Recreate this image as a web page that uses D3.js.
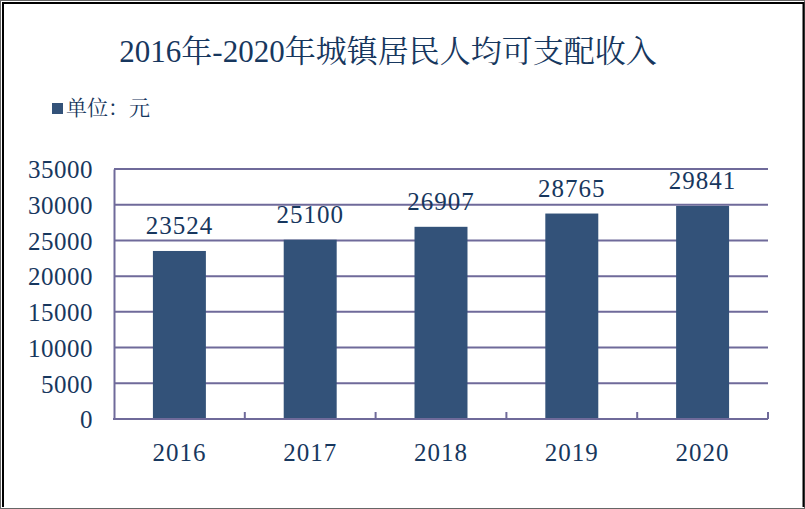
<!DOCTYPE html>
<html><head><meta charset="utf-8">
<script src="https://cdn.jsdelivr.net/npm/d3@7"></script>
<style>body{margin:0;background:#fff}svg{display:block}</style>
</head><body>
<script>
const categories = ["2016","2017","2018","2019","2020"];
const values = [23524,25100,26907,28765,29841];
const yTicks = [0,5000,10000,15000,20000,25000,30000,35000];
const title = "2016年-2020年城镇居民人均可支配收入";
const legendLabel = "单位：元";

const W=805,H=509;
const svg=d3.select("body").append("svg").attr("width",W).attr("height",H);
const font="'Liberation Serif','Times New Roman','Noto Serif CJK SC','Noto Sans CJK SC',serif";
const textColor="#17375E", barColor="#335279", gridColor="#6F6A9A";

// frame
svg.append("rect").attr("x",0.5).attr("y",0.5).attr("width",W-1).attr("height",H-1).attr("fill","none").attr("stroke","#666");
svg.append("path").attr("d",`M3,${H-2} V3 H803.5 V${H-2}`).attr("fill","none").attr("stroke","#000").attr("stroke-width",2);

const m={l:114,r:768,t:169,b:419};
const x=d3.scaleBand().domain(categories).range([m.l,m.r]).paddingInner(0.595).paddingOuter(0.2975);
const y=d3.scaleLinear().domain([0,35000]).range([m.b,m.t]);

svg.append("text").attr("x",388).attr("y",62).attr("text-anchor","middle")
  .attr("font-family",font).attr("font-size",31).attr("fill",textColor).text(title);

svg.append("rect").attr("x",52).attr("y",103).attr("width",11).attr("height",11).attr("fill",barColor);
svg.append("text").attr("x",66).attr("y",115).attr("font-family",font).attr("font-size",21).attr("fill",textColor).text(legendLabel);

// grid
svg.append("g").selectAll("line").data(yTicks.filter(d=>d>0)).join("line")
  .attr("x1",m.l).attr("x2",m.r).attr("y1",d=>y(d)).attr("y2",d=>y(d))
  .attr("stroke",gridColor).attr("stroke-width",2);

// bars
svg.append("g").selectAll("rect").data(values).join("rect")
  .attr("x",(d,i)=>x(categories[i])).attr("width",x.bandwidth())
  .attr("y",d=>y(d)).attr("height",d=>y(0)-y(d)).attr("fill",barColor);

// axes
const yAxis=d3.axisLeft(y).tickValues(yTicks).tickSize(0).tickPadding(21).tickFormat(d3.format("d"));
const gy=svg.append("g").attr("transform",`translate(${m.l},0)`).call(yAxis);
gy.select(".domain").attr("stroke",gridColor).attr("stroke-width",2);
gy.selectAll("text").attr("font-family",font).attr("font-size",25).attr("letter-spacing",0.5).attr("fill",textColor).attr("dy","0.35em");

const gx=svg.append("g").attr("transform",`translate(0,${m.b})`);
gx.append("line").attr("x1",m.l-1).attr("x2",m.r).attr("stroke",gridColor).attr("stroke-width",2);
const step=x.step();
const bounds=d3.range(1,categories.length+1).map(i=>m.l+i*step);
gx.selectAll("line.t").data(bounds).join("line").attr("class","t")
  .attr("x1",d=>d).attr("x2",d=>d).attr("y1",0).attr("y2",-7).attr("stroke",gridColor).attr("stroke-width",2);
gx.selectAll("text").data(categories).join("text")
  .attr("x",d=>x(d)+x.bandwidth()/2).attr("y",42).attr("text-anchor","middle")
  .attr("font-family",font).attr("font-size",25).attr("letter-spacing",1).attr("fill",textColor).text(d=>d);

// value labels
svg.append("g").selectAll("text").data(values).join("text")
  .attr("x",(d,i)=>x(categories[i])+x.bandwidth()/2).attr("y",d=>y(d)-17)
  .attr("text-anchor","middle").attr("font-family",font).attr("font-size",25)
  .attr("letter-spacing",1).attr("fill",textColor).text(d=>d);
</script>
</body></html>
